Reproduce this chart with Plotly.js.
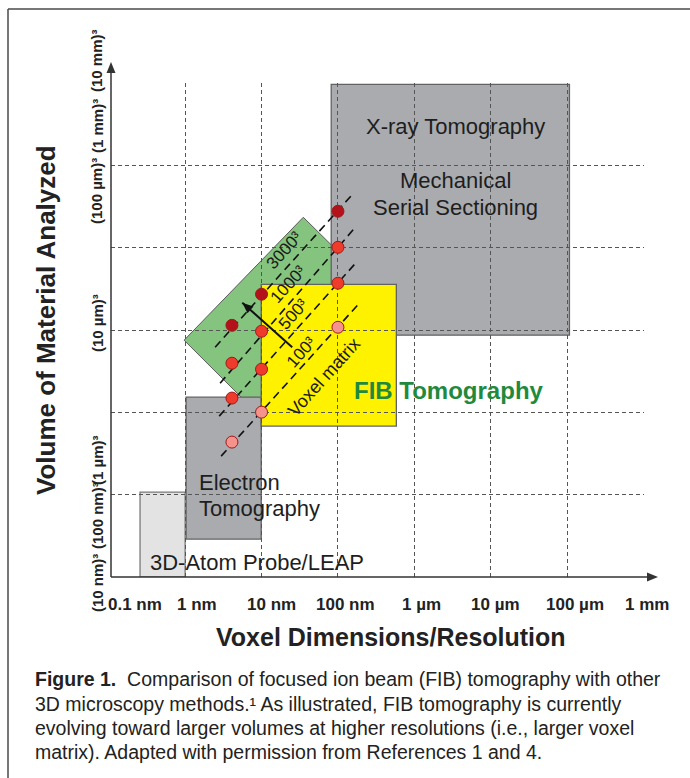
<!DOCTYPE html>
<html><head><meta charset="utf-8">
<script src="https://cdn.plot.ly/plotly-3.0.1.min.js"></script>
<style>html,body{margin:0;padding:0;background:#fff;}#chart{width:690px;height:778px;}</style>
</head><body><div id="chart"></div>
<script>
// x: voxel size in nm ; y: edge length (nm) of the analyzed cube, volume = edge^3
const xTickValues = [0.1, 1, 10, 100, 1000, 10000, 100000, 1000000];
const xTickLabels = ['0.1 nm', '1 nm', '10 nm', '100 nm', '1 µm', '10 µm', '100 µm', '1 mm'];
const yTickValues = [10, 100, 1000, 10000, 100000, 1000000, 10000000];
const yTickLabels = ['(10 nm)³', '(100 nm)³', '(1 µm)³', '(10 µm)³', '(100 µm)³', '(1 mm)³', '(10 mm)³'];

// method regions: [voxel min, voxel max, edge min, edge max]
const xrayBox = [81.6, 107000, 8650, 9600000];
const electronBox = [1.03, 9.9, 28.9, 1530];
const atomProbeBox = [0.257, 1.0, 10, 107.5];
const fibBox = [9.9, 581, 681, 35900];
// FIB trend region (tilted square): vertices
const fibTrendX = [35.2, 0.97, 10.8, 404];
const fibTrendY = [234000, 7520, 804, 25000];

// voxel matrix lines (end points)
const matrixNames = ['3000³', '1000³', '500³', '100³'];
const matrixLineX = [[2.47, 159], [2.87, 169], [2.79, 179], [2.96, 190]];
const matrixLineY = [[6180, 457000], [2260, 177000], [899, 68400], [294, 21100]];

// FIB data points per voxel-matrix line
const pointVoxel = [4.1, 10, 100];
const points3000 = [11400, 27200, 277000];
const points1000 = [3950, 9660, 101000];
const points500 = [1490, 3340, 37000];
const points100 = [435, 1005, 10800];

// trend arrow (tail -> head)
const trendArrowX = [25.2, 5.6];
const trendArrowY = [6180, 21500];

// ---------- layout helpers ----------
const L = 111, R = 644, T = 83, B = 577;
const W = R - L, H = B - T;
const XR = [-0.97, 6.005], YR = [1, 7];
const px = x => (x - L) / W;
const py = y => (B - y) / H;
const lg = Math.log10;
const xPaper = v => (lg(v) - XR[0]) / (XR[1] - XR[0]);
const xPix = v => L + xPaper(v) * W;
const yPix = v => B - (lg(v) - YR[0]) / (YR[1] - YR[0]) * H;

const FONT = 'Liberation Sans, Arial, sans-serif';
const colPoints = ['#b3121b', '#ee3b2b', '#ee3b2b', '#f4928b'];
const seriesPts = [points3000, points1000, points500, points100];

const traces = [];
matrixLineX.forEach((xs, i) => {
  traces.push({type: 'scatter', mode: 'lines', x: xs, y: matrixLineY[i], hoverinfo: 'skip',
    line: {color: '#111', width: 1.6, dash: '8px,5px'}, showlegend: false});
});
seriesPts.forEach((ys, i) => {
  traces.push({type: 'scatter', mode: 'markers', x: pointVoxel, y: ys, cliponaxis: false,
    marker: {size: 12, color: colPoints[i], line: {color: '#9e1a1a', width: 1}}, showlegend: false});
});
traces.push({type: 'scatter', mode: 'lines', x: trendArrowX, y: trendArrowY, showlegend: false,
  line: {color: '#111', width: 2}});

// arrow head for the trend arrow (computed from its data end points)
const tx = xPix(trendArrowX[0]), ty = yPix(trendArrowY[0]);
const hx = xPix(trendArrowX[1]), hy = yPix(trendArrowY[1]);
const len = Math.hypot(hx - tx, hy - ty), ux = (hx - tx) / len, uy = (hy - ty) / len;
const bx = hx - 11 * ux, by = hy - 11 * uy;
const headPath = `M ${px(hx)},${py(hy)} L ${px(bx - 4.5 * uy)},${py(by + 4.5 * ux)} L ${px(bx + 4.5 * uy)},${py(by - 4.5 * ux)} Z`;

const rect = (b, fill, lc) => ({type: 'rect', xref: 'x', yref: 'y', x0: b[0], x1: b[1], y0: b[2], y1: b[3],
  fillcolor: fill, line: {color: lc, width: 1.3}, layer: 'below'});
const greenPath = 'M ' + fibTrendX.map((x, i) => x + ',' + fibTrendY[i]).join(' L ') + ' Z';
const AX = '#333';
const shapes = [
  {type: 'path', xref: 'x', yref: 'y', path: greenPath, fillcolor: '#84c47e', line: {color: '#5b5b5b', width: 1}, layer: 'below'},
  rect(xrayBox, '#a9abae', '#626262'),
  rect(electronBox, '#a9abae', '#626262'),
  rect(atomProbeBox, '#e3e3e3', '#7a7a7a'),
  rect(fibBox, '#fff200', '#626262'),
  {type: 'path', xref: 'paper', yref: 'paper', path: headPath, fillcolor: '#111', line: {width: 0}, layer: 'above'},
  // axis lines with arrow heads
  {type: 'line', xref: 'paper', yref: 'paper', x0: 0, x1: px(650), y0: 0, y1: 0, line: {color: AX, width: 1.5}, layer: 'above'},
  {type: 'path', xref: 'paper', yref: 'paper', path: `M ${px(658)},${py(577)} L ${px(647)},${py(572.5)} L ${px(647)},${py(581.5)} Z`,
    fillcolor: AX, line: {width: 0}, layer: 'above'},
  {type: 'line', xref: 'paper', yref: 'paper', x0: 0, x1: 0, y0: 0, y1: py(70), line: {color: AX, width: 1.5}, layer: 'above'},
  {type: 'path', xref: 'paper', yref: 'paper', path: `M ${px(111)},${py(62)} L ${px(106.5)},${py(73)} L ${px(115.5)},${py(73)} Z`,
    fillcolor: AX, line: {width: 0}, layer: 'above'},
  // outer frame of the figure
  {type: 'line', xref: 'paper', yref: 'paper', x0: px(8), x1: px(700), y0: py(9), y1: py(9), line: {color: '#4a4a4a', width: 1.5}, layer: 'above'},
  {type: 'line', xref: 'paper', yref: 'paper', x0: px(8), x1: px(8), y0: py(9), y1: py(790), line: {color: '#4a4a4a', width: 1.5}, layer: 'above'}
];

const ann = [];
// x tick labels
const xLabelShift = [26, 12, 10, 8, 7, 5, 8, 3];
xTickValues.forEach((v, i) => {
  ann.push({xref: 'paper', yref: 'paper', x: xPaper(v), y: py(604), xshift: xLabelShift[i], text: xTickLabels[i],
    showarrow: false, xanchor: 'center', yanchor: 'middle', font: {family: FONT, size: 17, color: '#222', weight: 'bold'}});
});
// y tick labels (rotated)
const yLabelCenter = [583, 516, 461, 323, 191, 126, 61];
yTickLabels.forEach((t, i) => {
  ann.push({xref: 'paper', yref: 'paper', x: px(97), y: py(yLabelCenter[i]), text: t, textangle: -90,
    showarrow: false, xanchor: 'center', yanchor: 'middle', font: {family: FONT, size: 15, color: '#222', weight: 'bold'}});
});
// axis titles
ann.push({xref: 'paper', yref: 'paper', x: px(391), y: py(637), text: 'Voxel Dimensions/Resolution', showarrow: false,
  xanchor: 'center', yanchor: 'middle', font: {family: FONT, size: 25, color: '#222', weight: 'bold'}});
ann.push({xref: 'paper', yref: 'paper', x: px(46), y: py(320), text: 'Volume of Material Analyzed', textangle: -90, showarrow: false,
  xanchor: 'center', yanchor: 'middle', font: {family: FONT, size: 26, color: '#222', weight: 'bold'}});

// region labels
const lab = (x, y, t, opt = {}) => Object.assign({xref: 'paper', yref: 'paper', x: px(x), y: py(y), text: t, showarrow: false,
  xanchor: 'center', yanchor: 'middle', font: {family: FONT, size: 22, color: '#1e1e1e'}}, opt);
ann.push(lab(455, 127, 'X-ray Tomography'));
ann.push(lab(455, 180, 'Mechanical'));
ann.push(lab(455, 207, 'Serial Sectioning'));
ann.push(lab(197, 482, 'Electron', {xanchor: 'left'}));
ann.push(lab(197, 508, 'Tomography', {xanchor: 'left'}));
ann.push(lab(148, 562, '3D-Atom Probe/LEAP', {xanchor: 'left'}));
ann.push(lab(352, 390, 'FIB Tomography', {xanchor: 'left', font: {family: FONT, size: 24, color: '#1f8a3d', weight: 'bold'}}));

// voxel matrix labels
const matrixLabelPos = [[284, 250], [288, 284], [293, 314], [301, 352]];
matrixNames.forEach((t, i) => ann.push(lab(matrixLabelPos[i][0], matrixLabelPos[i][1], t,
  {textangle: -48, font: {family: FONT, size: 17, color: '#1a1a1a'}})));
ann.push(lab(324, 377, 'Voxel matrix', {textangle: -48, font: {family: FONT, size: 18, color: '#1a1a1a'}}));

// caption
const capFont = {family: FONT, size: 19.5, color: '#222'};
const capLines = ['<b>Figure 1.</b>  Comparison of focused ion beam (FIB) tomography with other',
  '3D microscopy methods.¹ As illustrated, FIB tomography is currently',
  'evolving toward larger volumes at higher resolutions (i.e., larger voxel',
  'matrix). Adapted with permission from References 1 and 4.'];
const capY = [679, 704, 728, 752];
capLines.forEach((t, i) => ann.push({xref: 'paper', yref: 'paper', x: px(33), y: py(capY[i]), text: t, showarrow: false,
  xanchor: 'left', yanchor: 'middle', align: 'left', font: capFont}));

const layout = {
  width: 690, height: 778,
  margin: {l: L, r: 690 - R, t: T, b: 778 - B, pad: 0},
  paper_bgcolor: '#fff', plot_bgcolor: 'rgba(0,0,0,0)',
  showlegend: false,
  xaxis: {type: 'log', range: XR, tickvals: xTickValues, showticklabels: false, ticks: '',
    showgrid: true, gridcolor: '#555', gridwidth: 1, griddash: '4px,3px', zeroline: false, showline: false, fixedrange: true},
  yaxis: {type: 'log', range: YR, tickvals: yTickValues, showticklabels: false, ticks: '',
    showgrid: true, gridcolor: '#555', gridwidth: 1, griddash: '4px,3px', zeroline: false, showline: false, fixedrange: true},
  shapes: shapes,
  annotations: ann,
  font: {family: FONT}
};
Plotly.newPlot('chart', traces, layout, {staticPlot: true, displayModeBar: false});
</script></body></html>
